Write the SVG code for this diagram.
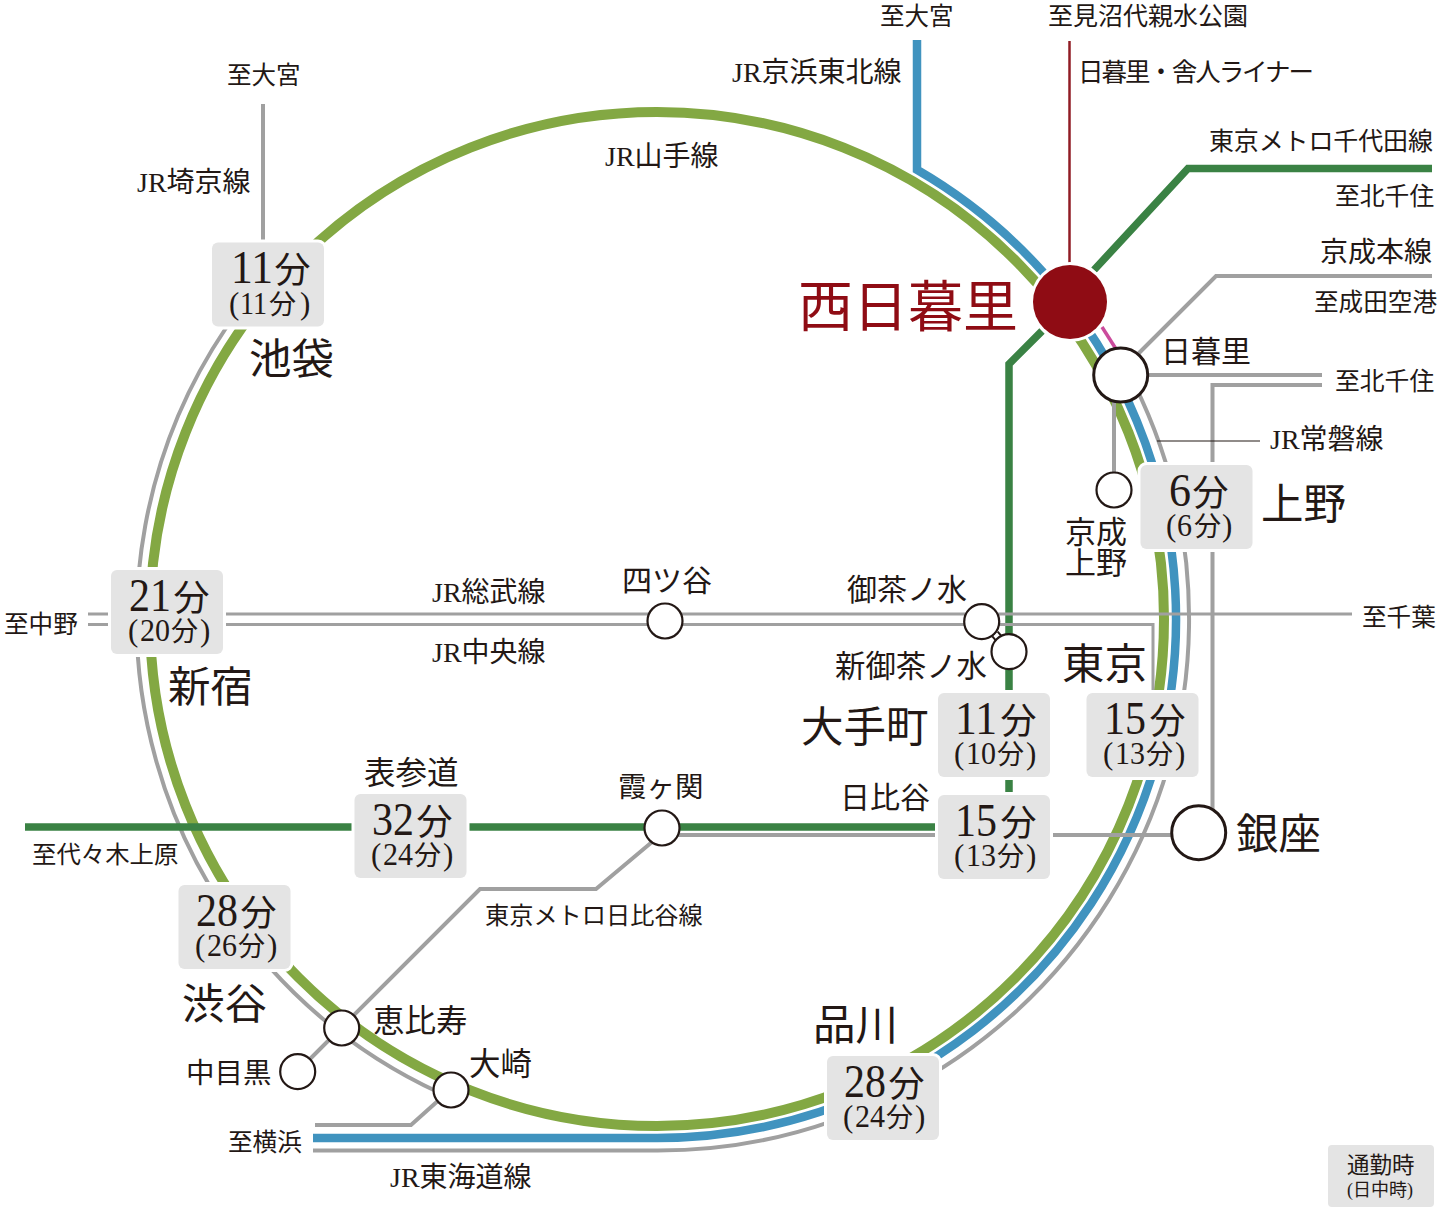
<svg xmlns="http://www.w3.org/2000/svg" width="1440" height="1212" viewBox="0 0 1440 1212">
<style>
text{font-family:"Liberation Serif","Noto Sans CJK JP",serif;fill:#231815}
.big{font-size:42.5px}
.mid{font-size:30px}
.jr{font-size:28px}
.box{fill:#e4e4e4;stroke:#fff;stroke-width:6;paint-order:stroke}
.line{fill:none;stroke-linejoin:miter}
.g{stroke:#a0a0a0;stroke-width:4}
.t{stroke:#a0a0a0;stroke-width:3}
.gr{stroke:#83a843;stroke-width:10}
.bl{stroke:#4093bf;stroke-width:8.5}
.dg{stroke:#3a8244;stroke-width:7.5}
.st{fill:#fff;stroke:#231815;stroke-width:2.2}
.stb{fill:#fff;stroke:#231815;stroke-width:3}
.n{font-size:47px}
.u{font-size:36px}
.n2{font-size:32px}
.u2{font-size:27px}
.p{font-size:31px}
</style>

<g id="connectors">
<circle class="line gr" cx="657" cy="619" r="507"/>
<path class="line bl" d="M917 40V169.8A519 519 0 0 1 657 1138H313"/>
<path class="line g" d="M1134 383.4A531.5 531.5 0 0 1 657 1150.5H313"/>
<path class="line g" d="M226 328A521 521 0 0 0 440 1093"/>
<path class="line g" d="M263 104V242"/>
<path class="line dg" d="M1432 168.500H1188L1094 270"/>
<path class="line dg" d="M1042 331L1009 364V792"/>
<path class="line dg" d="M25 827H937"/>
<path fill="none" stroke="#901c24" stroke-width="2.500" d="M1069.500 41V263"/>
<path fill="none" stroke="#cb4b9c" stroke-width="3.500" d="M1102 327L1116 349"/>
<path class="line g" d="M1432 276H1216L1138 354"/>
<path class="line g" d="M1140 375H1322"/>
<path class="line g" d="M1322 385H1212.500V810"/>
<path class="line g" d="M1114 400V475"/>
<path fill="none" stroke="#231815" stroke-width="1.200" d="M1157 441H1260"/>
<path class="line t" d="M88 614H1352"/>
<path class="line t" d="M88 624.500H1153V692"/>
<path class="line g" d="M662 835H1172"/>
<path class="line g" d="M652 842L596 889H480L300 1069"/>
<path class="line g" d="M315 1125H411L440 1099"/>
<path fill="none" stroke="#231815" stroke-width="9" d="M995 634L1001 641"/>
<path fill="none" stroke="#fff" stroke-width="5" d="M995 634L1001 641"/>
</g>

<g id="nishi-nippori">
<circle cx="1070" cy="302" r="40" fill="#fff"/>
<circle cx="1070" cy="302" r="37" fill="#8f0c14"/>
<text x="798" y="326" font-size="55" style="fill:#8f0c14">西日暮里</text>
</g>
<g id="nippori"><circle class="stb" cx="1120.700" cy="375" r="27"/><text class="mid" x="1161" y="362">日暮里</text></g>
<g id="keisei-ueno"><circle class="st" cx="1114" cy="490" r="17.500"/><text x="1065" y="543" font-size="31">京成</text><text x="1065" y="574" font-size="31">上野</text></g>
<g id="ginza"><circle class="stb" cx="1198.700" cy="832.700" r="27"/><text class="big" x="1236" y="849">銀座</text></g>
<g id="ochanomizu"><circle class="st" cx="981.700" cy="621.700" r="17.500"/><text class="mid" x="847" y="600">御茶ノ水</text></g>
<g id="shin-ochanomizu"><circle class="st" cx="1009" cy="651.700" r="17.500"/><text x="835" y="677" font-size="30.400">新御茶ノ水</text></g>
<g id="yotsuya"><circle class="st" cx="665" cy="621" r="17.500"/><text class="mid" x="622" y="591">四ツ谷</text></g>
<g id="kasumigaseki"><circle class="st" cx="662" cy="828" r="17.500"/><text x="618" y="797" font-size="28.500">霞ヶ関</text></g>
<g id="ebisu"><circle class="st" cx="341.700" cy="1028" r="17.500"/><text x="373" y="1032" font-size="31.500">恵比寿</text></g>
<g id="nakameguro"><circle class="st" cx="297.700" cy="1071.700" r="17.500"/><text x="186" y="1083" font-size="28.500">中目黒</text></g>
<g id="osaki"><circle class="st" cx="451" cy="1090" r="17.500"/><text x="469" y="1075" font-size="31.500">大崎</text></g>

<g id="ikebukuro">
<rect class="box" x="212" y="242.500" width="112" height="84" rx="6"/>
<text y="282.500"><tspan class="n" x="231" textLength="42" lengthAdjust="spacingAndGlyphs">11</tspan><tspan class="u" x="274.500">分</tspan></text>
<text y="314"><tspan class="p" x="229">(</tspan><tspan class="n2" x="240" textLength="27" lengthAdjust="spacingAndGlyphs">11</tspan><tspan class="u2" x="269">分</tspan><tspan class="p" x="300">)</tspan></text>
<text class="big" x="249" y="374">池袋</text>
</g>
<g id="shinjuku">
<rect class="box" x="111" y="570" width="112" height="84" rx="6"/>
<text y="611"><tspan class="n" x="129" textLength="42" lengthAdjust="spacingAndGlyphs">21</tspan><tspan class="u" x="173.500">分</tspan></text>
<text y="641"><tspan class="p" x="128">(</tspan><tspan class="n2" x="140" textLength="30" lengthAdjust="spacingAndGlyphs">20</tspan><tspan class="u2" x="171">分</tspan><tspan class="p" x="200">)</tspan></text>
<text class="big" x="168" y="702">新宿</text>
</g>
<g id="shibuya">
<rect class="box" x="178.500" y="885" width="112" height="84" rx="6"/>
<text y="926"><tspan class="n" x="196" textLength="42" lengthAdjust="spacingAndGlyphs">28</tspan><tspan class="u" x="240.500">分</tspan></text>
<text y="956"><tspan class="p" x="195">(</tspan><tspan class="n2" x="207" textLength="30" lengthAdjust="spacingAndGlyphs">26</tspan><tspan class="u2" x="238">分</tspan><tspan class="p" x="267">)</tspan></text>
<text class="big" x="182" y="1019">渋谷</text>
</g>
<g id="omotesando">
<rect class="box" x="354.500" y="794" width="112" height="84" rx="6"/>
<text y="835"><tspan class="n" x="372" textLength="42" lengthAdjust="spacingAndGlyphs">32</tspan><tspan class="u" x="416.500">分</tspan></text>
<text y="865"><tspan class="p" x="371">(</tspan><tspan class="n2" x="383" textLength="30" lengthAdjust="spacingAndGlyphs">24</tspan><tspan class="u2" x="414">分</tspan><tspan class="p" x="443">)</tspan></text>
<text x="364" y="784" font-size="31.500">表参道</text>
</g>
<g id="hibiya">
<rect class="box" x="938" y="795" width="112" height="84" rx="6"/>
<text y="836"><tspan class="n" x="955" textLength="42" lengthAdjust="spacingAndGlyphs">15</tspan><tspan class="u" x="1000.500">分</tspan></text>
<text y="866"><tspan class="p" x="954">(</tspan><tspan class="n2" x="966" textLength="30" lengthAdjust="spacingAndGlyphs">13</tspan><tspan class="u2" x="997">分</tspan><tspan class="p" x="1026">)</tspan></text>
<text class="mid" x="840" y="808">日比谷</text>
</g>
<g id="otemachi">
<rect class="box" x="938" y="693" width="112" height="84" rx="6"/>
<text y="734"><tspan class="n" x="955" textLength="42" lengthAdjust="spacingAndGlyphs">11</tspan><tspan class="u" x="1000.500">分</tspan></text>
<text y="764"><tspan class="p" x="954">(</tspan><tspan class="n2" x="966" textLength="30" lengthAdjust="spacingAndGlyphs">10</tspan><tspan class="u2" x="997">分</tspan><tspan class="p" x="1026">)</tspan></text>
<text class="big" x="801" y="742">大手町</text>
</g>
<g id="tokyo">
<rect class="box" x="1086.500" y="693" width="112" height="84" rx="6"/>
<text y="734"><tspan class="n" x="1104" textLength="42" lengthAdjust="spacingAndGlyphs">15</tspan><tspan class="u" x="1149.500">分</tspan></text>
<text y="764"><tspan class="p" x="1103">(</tspan><tspan class="n2" x="1115" textLength="30" lengthAdjust="spacingAndGlyphs">13</tspan><tspan class="u2" x="1146">分</tspan><tspan class="p" x="1175">)</tspan></text>
<text class="big" x="1062" y="679">東京</text>
</g>
<g id="ueno">
<rect class="box" x="1140.500" y="465" width="112" height="84" rx="6"/>
<text y="506"><tspan class="n" x="1169" textLength="22" lengthAdjust="spacingAndGlyphs">6</tspan><tspan class="u" x="1192.500">分</tspan></text>
<text y="536"><tspan class="p" x="1166">(</tspan><tspan class="n2" x="1177" textLength="15" lengthAdjust="spacingAndGlyphs">6</tspan><tspan class="u2" x="1194">分</tspan><tspan class="p" x="1222">)</tspan></text>
<text class="big" x="1261" y="519">上野</text>
</g>
<g id="shinagawa">
<rect class="box" x="827" y="1056" width="112" height="84" rx="6"/>
<text y="1097"><tspan class="n" x="844" textLength="42" lengthAdjust="spacingAndGlyphs">28</tspan><tspan class="u" x="888.500">分</tspan></text>
<text y="1127"><tspan class="p" x="843">(</tspan><tspan class="n2" x="855" textLength="30" lengthAdjust="spacingAndGlyphs">24</tspan><tspan class="u2" x="886">分</tspan><tspan class="p" x="915">)</tspan></text>
<text class="big" x="813" y="1040">品川</text>
</g>

<g id="legend">
<rect x="1328" y="1145" width="106" height="62" rx="4" fill="#e4e4e4"/>
<text x="1347" y="1173" font-size="22.500">通勤時</text>
<text x="1347" y="1196" font-size="18">(日中時)</text>
</g>

<g id="labels">
<text x="880" y="25" font-size="24.500">至大宮</text>
<text x="1048" y="25" font-size="25">至見沼代親水公園</text>
<text class="jr" x="732" y="82">JR京浜東北線</text>
<text x="1078" y="81" font-size="25.500" textLength="236">日暮里・舎人ライナー</text>
<text x="1209" y="150" font-size="25" textLength="224">東京メトロ千代田線</text>
<text x="1335" y="205" font-size="24.800">至北千住</text>
<text x="1320" y="262" font-size="28">京成本線</text>
<text x="1314" y="311" font-size="24.600">至成田空港</text>
<text x="1335" y="390" font-size="24.800">至北千住</text>
<text class="jr" x="1270" y="449">JR常磐線</text>
<text x="1362" y="626" font-size="24.600">至千葉</text>
<text x="4" y="633" font-size="24.600">至中野</text>
<text class="jr" x="432" y="602">JR総武線</text>
<text class="jr" x="432" y="662">JR中央線</text>
<text class="jr" x="605" y="166">JR山手線</text>
<text class="jr" x="137" y="192">JR埼京線</text>
<text x="227" y="84" font-size="24.500">至大宮</text>
<text x="32" y="863" font-size="24.400">至代々木上原</text>
<text x="485" y="924" font-size="24.200">東京メトロ日比谷線</text>
<text x="228" y="1151" font-size="24.600">至横浜</text>
<text class="jr" x="390" y="1187">JR東海道線</text>
</g>
</svg>
